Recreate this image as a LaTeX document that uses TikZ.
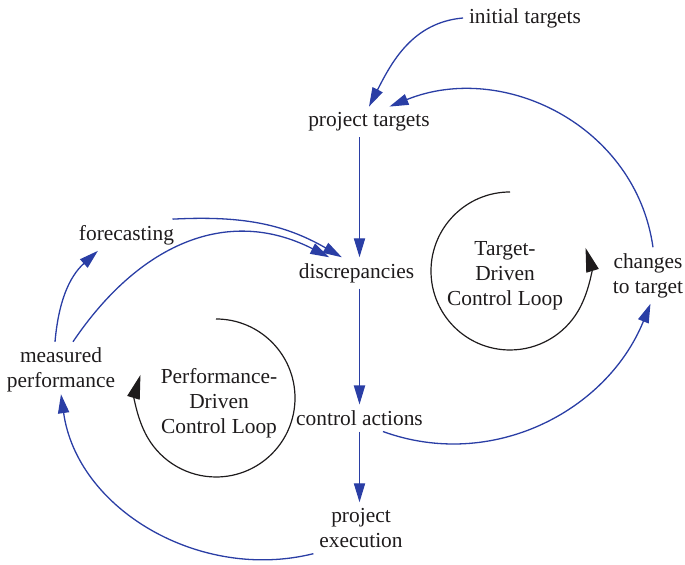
\documentclass[tikz,border=0pt]{standalone}
\usepackage{fontspec}
\setmainfont{Liberation Serif}
\usetikzlibrary{arrows.meta}
\definecolor{cblue}{RGB}{42,62,165}
\definecolor{ctext}{RGB}{30,27,28}
\begin{document}
\begin{tikzpicture}[x=0.5pt,y=0.5pt,
  lbl/.style={font=\fontsize{10.7}{12.5}\selectfont, text=ctext, inner sep=1.5pt, outer sep=1.5pt, align=center},
  link/.style={draw=cblue, line width=0.65pt, -{Triangle[length=9.5pt,width=5.6pt]}},
  loopline/.style={draw=ctext, line width=0.6pt, -{Triangle[length=12pt,width=6.4pt]}}]
\useasboundingbox (0,0) rectangle (685,565);
% nodes
\node[lbl] (init) at (525,547) {initial targets};
\node[lbl] (pt) at (369,443) {project targets};
\node[lbl] (disc) at (356.5,292) {discrepancies};
\node[lbl] (ca) at (359.5,147) {control actions};
\node[lbl] (pe) at (361,37) {project\\execution};
\node[lbl] (fc) at (126.5,330) {forecasting};
\node[lbl] (mp) at (61,195) {measured\\performance};
\node[lbl] (chg) at (648,289.5) {changes\\to target};
\node[lbl] (perf) at (219,162) {Performance-\\Driven\\Control Loop};
\node[lbl] (targ) at (505,289) {Target-\\Driven\\Control Loop};
% loops
\coordinate (pc) at (216,167);
\coordinate (tc) at (510,294);
\draw[loopline] (pc) ++(0,79) arc[start angle=90, end angle=-197, radius=79];
\draw[loopline] (tc) ++(0,79) arc[start angle=90, end angle=377, radius=79];
% connectors
\draw[link] (init.west) to[out=185,in=63] (pt.north);
\draw[link] (chg.80) to[out=98,in=22,looseness=1.05] (pt.37);
\draw[link] (pt.south -| ca.north) -- (disc.north -| ca.north);
\draw[link] (disc.south -| ca.north) -- (ca.north);
\draw[link] (ca.south) -- (pe.north -| ca.south);
\draw[link] (ca.-30) to[out=-20,in=-112] (chg.-85);
\draw[link] (pe.south west) to[out=-166,in=-82] ([yshift=2pt]mp.south);
\draw[link] (mp.102) to[out=85,in=-138] (fc.-151);
\draw[link] (fc.19) to[out=3,in=150] (disc.133);
\draw[link] (mp.67) to[out=56,in=153,looseness=1.1] (disc.150);
\end{tikzpicture}
\end{document}
